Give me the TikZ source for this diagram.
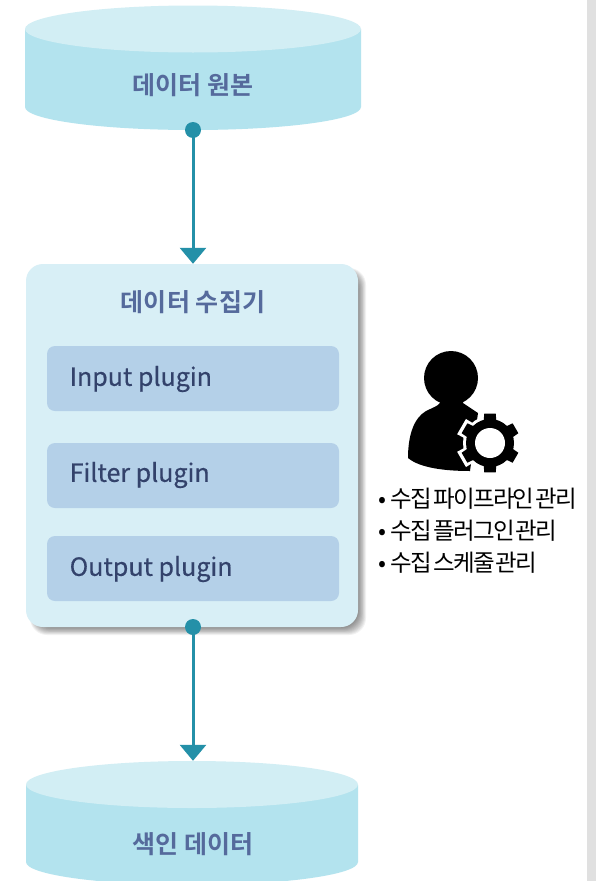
\documentclass[tikz,border=0pt]{standalone}
\usepackage{fontspec}
\usetikzlibrary{arrows.meta,shapes.geometric,calc}
\setmainfont{Noto Sans CJK KR}
\newfontfamily\krbold{Noto Sans CJK KR Bold}[LetterSpace=0.5]
\newfontfamily\plugfont{Noto Sans CJK KR}[FakeBold=0.5]
\newfontfamily\listfont{Noto Sans CJK KR}[LetterSpace=-7,WordSpace=0.35]
\definecolor{cylbody}{HTML}{B3E3EE}
\definecolor{cyltop}{HTML}{D2EEF4}
\definecolor{boxfill}{HTML}{D8EFF6}
\definecolor{plugfill}{HTML}{B4D0E8}
\definecolor{tealc}{HTML}{2490A8}
\definecolor{titlecol}{HTML}{556A9C}
\definecolor{plugtext}{HTML}{33426B}
\definecolor{strip}{HTML}{E0E0E0}
\tikzset{
  cyltopstyle/.style={ellipse,fill=cyltop,inner sep=0pt,minimum width=#1,minimum height=47pt},
  cyllabel/.style={font=\krbold\fontsize{25}{25}\selectfont,text=titlecol,inner sep=0pt},
  dotnode/.style={circle,fill=tealc,inner sep=0pt,minimum size=16pt},
  flow/.style={draw=tealc,line width=3pt,-{Triangle[length=16pt,width=26pt]}},
  plugbox/.style={rounded corners=8pt,fill=plugfill,minimum width=292pt,minimum height=65pt,inner sep=0pt},
  plugtxt/.style={font=\plugfont\fontsize{25}{25}\selectfont,text=plugtext,inner sep=0pt,anchor=west},
  listtxt/.style={font=\listfont\fontsize{23.5}{23.5}\selectfont,text=black,inner sep=0pt,anchor=west}
}
\begin{document}
\begin{tikzpicture}[x=1pt,y=-1pt]
\useasboundingbox (0,0) rectangle (596,881);
\fill[white] (0,0) rectangle (596,881);
\fill[strip] (587,0) rectangle (596,881);
% top cylinder
\fill[cylbody] (25,29) -- (25,107) arc[x radius=168,y radius=23,start angle=180,end angle=0] -- (361,29) -- cycle;
\node[cyltopstyle=336pt] (srctop) at (193,29) {};
\node[cyllabel] (srclabel) at (193,85) {데이터 원본};
% collector shadow
\foreach \i in {0,...,9}{
  \fill[black,opacity=0.05,rounded corners=17pt] ({26+4+\i*0.5},{264+4+\i*0.5}) rectangle ({358+8-\i*0.8},{627+8-\i*0.8});
}
\node[rounded corners=17pt,fill=boxfill,minimum width=332pt,minimum height=363pt,inner sep=0pt] (collector) at (192,445.5) {};
\node[cyllabel] (coltitle) at (193,302) {데이터 수집기};
\node[plugbox] (input) at (193,378.5) {};
\node[plugbox] (filter) at (193,475.5) {};
\node[plugbox] (output) at (193,568.5) {};
\node[plugtxt] (inputl) at (69.5,379) {Input plugin};
\node[plugtxt] (filterl) at (69.5,475) {Filter plugin};
\node[plugtxt] (outputl) at (69.5,569) {Output plugin};
% bottom cylinder
\fill[cylbody] (26,785) -- (26,862) arc[x radius=166,y radius=23,start angle=180,end angle=0] -- (358,785) -- cycle;
\node[cyltopstyle=332pt] (idxtop) at (192,784.5) {};
\node[cyllabel] (idxlabel) at (193,844) {색인 데이터};
% connectors
\node[dotnode] (dota) at (193,130) {};
\node[dotnode] (dotb) at (193,627) {};
\draw[flow] (dota.center) -- (dota.center |- collector.north);
\draw[flow] (dotb.center) -- (dotb.center |- idxtop.north);
% person icon
\fill[black] (451,378) circle[radius=27];
\fill[black] (440,396) -- (463,396) -- (463,403)
  -- (478,413) -- (470,471)
  .. controls (445,471) and (420,468) .. (408,458)
  .. controls (408,435) and (414,418) .. (426,411)
  .. controls (432,408) and (438,406) .. (440,403) -- cycle;
% gear
\coordinate (gc) at (490,443);
\foreach \a in {30,90,150,210,270,330}{
  \fill[white] ($(gc)+(\a-20:25)$) -- ($(gc)+(\a-15:34)$) -- ($(gc)+(\a+15:34)$) -- ($(gc)+(\a+20:25)$) -- cycle;
}
\fill[white] (gc) circle[radius=27];
\fill[black] (gc) circle[radius=24];
\foreach \a in {30,90,150,210,270,330}{
  \fill[black] ($(gc)+(\a-16:23)$) -- ($(gc)+(\a-11:30)$) -- ($(gc)+(\a+11:30)$) -- ($(gc)+(\a+16:23)$) -- cycle;
}
\fill[white] (gc) circle[radius=15];
% list
\node[listtxt] (l1) at (378,499) {•\hspace{4pt}수집 파이프라인 관리};
\node[listtxt] (l2) at (378,531) {•\hspace{4pt}수집 플러그인 관리};
\node[listtxt] (l3) at (378,563) {•\hspace{4pt}수집 스케줄 관리};
\end{tikzpicture}
\end{document}
